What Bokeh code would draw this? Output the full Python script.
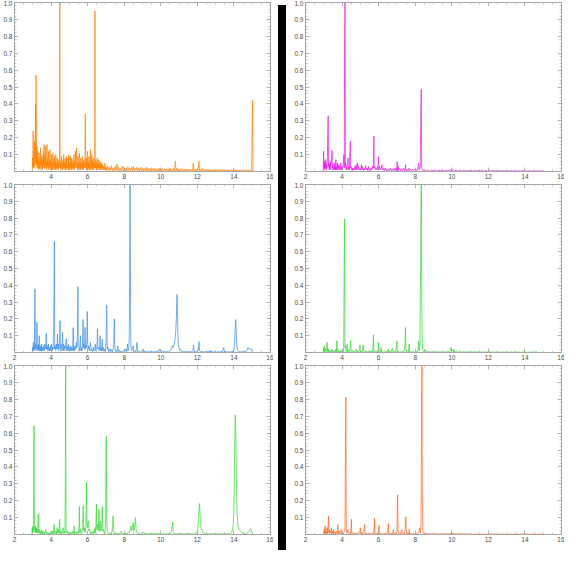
from bokeh.plotting import figure
from bokeh.models import Range1d, LinearAxis, FixedTicker, Div, PrintfTickFormatter
from bokeh.layouts import row, column
from bokeh.embed import file_html
from bokeh.resources import INLINE

# ---------------- data (x, intensity) ----------------
top_left_trace = [
    (2.97,0),(2.98,0.08),(3.00,0.02),(3.02,0.24),(3.03,0.03),(3.05,0.12),(3.07,0.02),(3.09,0.18),(3.11,0.03),(3.13,0.09),
    (3.15,0.40),(3.16,0.05),(3.18,0.57),(3.20,0.04),(3.22,0.15),(3.24,0.02),(3.26,0.12),(3.28,0.03),(3.30,0.07),(3.32,0.01),
    (3.34,0.11),(3.36,0.02),(3.38,0.06),(3.40,0.01),(3.42,0.14),(3.44,0.03),(3.46,0.08),(3.48,0.02),(3.50,0.10),(3.52,0.01),
    (3.54,0.07),(3.56,0.02),(3.58,0.12),(3.60,0.03),(3.62,0.16),(3.64,0.02),(3.66,0.09),(3.68,0.04),(3.70,0.15),(3.72,0.02),
    (3.74,0.06),(3.76,0.01),(3.78,0.16),(3.80,0.03),(3.82,0.08),(3.84,0.02),(3.86,0.12),(3.88,0.01),(3.90,0.06),(3.92,0.03),
    (3.94,0.13),(3.96,0.02),(3.98,0.07),(4.00,0.01),(4.02,0.10),(4.04,0.02),(4.06,0.05),(4.08,0.01),(4.10,0.11),(4.12,0.03),
    (4.14,0.07),(4.16,0.01),(4.18,0.09),(4.20,0.02),(4.22,0.06),(4.24,0.01),(4.26,0.10),(4.28,0.02),(4.30,0.05),(4.32,0.01),
    (4.34,0.08),(4.36,0.02),(4.38,0.05),(4.40,0.01),(4.42,0.07),(4.44,0.02),(4.46,0.04),(4.47,0.06),(4.48,1.00),(4.49,0.05),
    (4.51,0.02),(4.53,0.06),(4.55,0.01),(4.57,0.09),(4.59,0.02),(4.61,0.05),(4.63,0.01),(4.65,0.07),(4.67,0.02),(4.69,0.10),
    (4.71,0.01),(4.73,0.05),(4.75,0.02),(4.77,0.08),(4.79,0.01),(4.81,0.06),(4.83,0.02),(4.85,0.09),(4.87,0.01),(4.89,0.04),
    (4.91,0.02),(4.93,0.08),(4.95,0.01),(4.97,0.10),(4.99,0.02),(5.01,0.05),(5.03,0.01),(5.05,0.09),(5.07,0.02),(5.09,0.06),
    (5.11,0.01),(5.13,0.08),(5.15,0.02),(5.17,0.05),(5.19,0.01),(5.21,0.07),(5.23,0.02),(5.25,0.10),(5.27,0.01),(5.29,0.06),
    (5.31,0.02),(5.33,0.12),(5.35,0.03),(5.37,0.07),(5.39,0.14),(5.41,0.02),(5.43,0.06),(5.45,0.01),(5.47,0.09),(5.49,0.02),
    (5.51,0.05),(5.53,0.01),(5.55,0.11),(5.57,0.02),(5.59,0.06),(5.61,0.01),(5.63,0.08),(5.65,0.02),(5.67,0.05),(5.69,0.01),
    (5.71,0.09),(5.73,0.02),(5.75,0.06),(5.77,0.01),(5.79,0.07),(5.81,0.02),(5.83,0.05),(5.85,0.03),(5.87,0.34),(5.89,0.02),
    (5.91,0.06),(5.93,0.01),(5.95,0.08),(5.97,0.02),(5.99,0.12),(6.01,0.01),(6.03,0.06),(6.05,0.02),(6.07,0.09),(6.09,0.01),
    (6.11,0.05),(6.13,0.02),(6.15,0.13),(6.17,0.01),(6.19,0.07),(6.21,0.02),(6.23,0.10),(6.25,0.01),(6.27,0.06),(6.29,0.02),
    (6.31,0.08),(6.33,0.01),(6.35,0.05),(6.37,0.02),(6.39,0.08),(6.40,0.95),(6.41,0.06),(6.43,0.02),(6.45,0.07),(6.47,0.01),
    (6.49,0.05),(6.51,0.02),(6.53,0.08),(6.55,0.01),(6.57,0.04),(6.59,0.02),(6.61,0.07),(6.63,0.01),(6.65,0.05),(6.67,0.02),
    (6.69,0.06),(6.71,0.01),(6.73,0.04),(6.75,0.02),(6.77,0.05),(6.79,0.01),(6.82,0.04),(6.85,0.01),(6.88,0.03),(6.91,0.01),
    (6.94,0.05),(6.97,0.01),(7.00,0.03),
    (7.05,.006),(7.10,.03),(7.15,.004),(7.20,.025),(7.25,.006),(7.30,.035),(7.35,.005),(7.40,.02),(7.45,.004),(7.50,.03),
    (7.55,.006),(7.60,.045),(7.65,.005),(7.70,.025),(7.75,.003),(7.80,.02),(7.85,.005),(7.90,.03),(7.95,.004),(8.00,.025),
    (8.05,.006),(8.10,.02),(8.15,.003),(8.20,.03),(8.25,.005),(8.30,.02),(8.35,.004),(8.40,.025),(8.45,.006),(8.50,.03),
    (8.55,.003),(8.60,.02),(8.65,.005),(8.70,.025),(8.75,.004),(8.80,.02),(8.85,.003),(8.90,.025),(8.95,.005),(9.00,.02),
    (9.05,.003),(9.10,.018),(9.15,.005),(9.20,.025),(9.25,.003),(9.30,.02),(9.35,.004),(9.40,.018),(9.45,.003),(9.50,.022),
    (9.55,.005),(9.60,.018),(9.65,.003),(9.70,.02),(9.75,.004),(9.80,.016),(9.85,.003),(9.90,.02),(9.95,.004),(10.00,.018),
    (10.05,.003),(10.10,.02),(10.15,.004),(10.20,.016),(10.25,.003),(10.30,.018),(10.35,.004),(10.40,.015),(10.45,.003),(10.50,.02),
    (10.55,.004),(10.60,.016),(10.65,.003),(10.70,.018),(10.75,.005),(10.80,.06),(10.83,.004),(10.88,.02),(10.93,.003),(10.98,.016),
    (11.03,.003),(11.08,.015),(11.13,.004),(11.18,.018),(11.23,.003),(11.28,.014),(11.33,.003),(11.38,.016),(11.43,.004),(11.48,.013),
    (11.53,.003),(11.58,.015),(11.63,.003),(11.68,.014),(11.73,.004),(11.78,.05),(11.81,.003),(11.86,.015),(11.91,.003),(11.96,.014),
    (12.01,.004),(12.06,.02),(12.09,.06),(12.12,.004),(12.17,.014),(12.22,.003),(12.27,.02),(12.32,.003),(12.37,.013),(12.42,.003),
    (12.47,.012),(12.52,.002),(12.57,.014),(12.62,.003),(12.67,.012),(12.72,.002),(12.77,.013),(12.82,.003),(12.87,.011),(12.92,.002),
    (12.97,.012),(13.02,.003),(13.07,.011),(13.12,.002),(13.17,.012),(13.22,.003),(13.27,.01),(13.32,.002),(13.37,.015),(13.42,.003),
    (13.47,.011),(13.52,.002),(13.57,.01),(13.62,.003),(13.67,.011),(13.72,.002),(13.77,.01),(13.82,.002),(13.87,.012),(13.92,.003),
    (13.97,.01),(14.02,.002),(14.07,.011),(14.12,.002),(14.17,.01),(14.22,.003),(14.27,.009),(14.32,.002),(14.37,.01),(14.42,.002),
    (14.47,.009),(14.52,.003),(14.57,.01),(14.62,.002),(14.67,.009),(14.72,.002),(14.77,.01),(14.82,.002),(14.87,.009),(14.92,.003),
    (14.97,.02),(15.00,.30),(15.02,.42),(15.04,.01),(15.06,0),
]

top_right_trace = [
    (2.97,0),(2.99,0.12),(3.01,0.02),(3.03,0.06),(3.05,0.01),(3.07,0.05),(3.09,0.02),(3.11,0.07),(3.13,0.01),(3.15,0.04),
    (3.17,0.02),(3.20,0.08),(3.22,0.25),(3.24,0.33),(3.26,0.03),(3.28,0.05),(3.30,0.01),(3.32,0.04),(3.34,0.02),(3.36,0.06),
    (3.38,0.01),(3.40,0.03),(3.43,0.08),(3.45,0.125),(3.47,0.02),(3.49,0.04),(3.51,0.01),(3.53,0.03),(3.55,0.01),(3.58,0.05),
    (3.60,0.01),(3.62,0.03),(3.64,0.01),(3.66,0.07),(3.68,0.01),(3.70,0.03),(3.72,0.01),(3.75,0.05),(3.77,0.01),(3.79,0.02),
    (3.82,0.04),(3.84,0.01),(3.87,0.03),(3.90,0.01),(3.93,0.05),(3.96,0.01),(4.00,0.03),(4.03,0.01),(4.07,0.05),(4.10,0.10),
    (4.12,0.02),(4.14,0.78),(4.16,1.00),(4.18,0.03),(4.20,0.05),(4.22,0.01),(4.25,0.03),(4.27,0.01),(4.30,0.05),(4.33,0.08),
    (4.35,0.01),(4.38,0.03),(4.40,0.01),(4.43,0.12),(4.45,0.18),(4.47,0.02),(4.50,0.03),(4.53,0.01),(4.56,0.02),(4.59,0.005),
    (4.62,0.02),(4.66,0.01),(4.70,0.03),(4.73,0.01),(4.77,0.04),(4.80,0.01),(4.84,0.05),(4.87,0.01),(4.90,0.03),(4.94,0.01),
    (4.98,0.02),(5.02,0.01),(5.06,0.04),(5.09,0.01),(5.13,0.03),(5.17,0.005),(5.21,0.02),(5.25,0.01),(5.29,0.035),(5.32,0.01),
    (5.36,0.02),(5.40,0.005),(5.44,0.03),(5.48,0.01),(5.52,0.02),(5.56,0.005),(5.60,0.02),(5.64,0.01),(5.68,0.03),(5.71,0.02),
    (5.74,0.21),(5.76,0.02),(5.79,0.03),(5.82,0.01),(5.86,0.02),(5.90,0.01),(5.94,0.03),(5.96,0.01),(5.99,0.087),(6.02,0.01),
    (6.06,0.03),(6.10,0.01),(6.15,0.02),(6.18,0.04),(6.21,0.01),(6.25,0.02),(6.30,0.005),(6.35,0.02),(6.40,0.005),(6.45,0.015),
    (6.50,0.005),(6.55,0.015),(6.60,0.005),(6.65,0.02),(6.70,0.005),(6.75,0.015),(6.80,0.005),(6.85,0.02),(6.90,0.005),(6.95,0.02),
    (6.99,0.005),(7.01,0.058),(7.03,0.005),(7.07,0.03),(7.10,0.005),(7.15,0.02),(7.20,0.005),(7.25,0.015),(7.30,0.005),(7.35,0.02),
    (7.40,0.005),(7.45,0.015),(7.47,0.04),(7.49,0.005),(7.55,0.015),(7.60,0.005),(7.65,0.02),(7.70,0.005),(7.75,0.015),(7.80,0.005),
    (7.85,0.01),(7.90,0.005),(7.95,0.015),(8.00,0.005),(8.05,0.01),(8.10,0.005),(8.15,0.02),(8.19,0.05),(8.22,0.01),(8.27,0.02),
    (8.31,0.35),(8.33,0.486),(8.35,0.02),(8.38,0.015),(8.42,0.005),
    (8.50,.012),(8.60,.003),(8.70,.01),(8.80,.002),(8.90,.008),(9.00,.003),(9.10,.01),(9.20,.002),(9.30,.008),(9.40,.003),
    (9.50,.009),(9.60,.002),(9.70,.008),(9.80,.003),(9.90,.01),(10.00,.004),(10.05,.012),(10.15,.003),(10.25,.008),(10.35,.002),
    (10.45,.007),(10.55,.002),(10.65,.008),(10.75,.002),(10.85,.006),(10.95,.002),(11.05,.007),(11.15,.002),(11.25,.006),(11.35,.002),
    (11.45,.007),(11.55,.002),(11.65,.006),(11.75,.002),(11.85,.005),(11.95,.002),(12.05,.006),(12.15,.002),(12.25,.005),(12.35,.002),
    (12.45,.006),(12.55,.002),(12.65,.005),(12.75,.002),(12.85,.005),(12.95,.002),(13.05,.005),(13.15,.002),(13.25,.006),(13.35,.002),
    (13.45,.005),(13.55,.002),(13.65,.004),(13.75,.002),(13.85,.005),(13.95,.002),(14.05,.004),(14.15,.002),(14.25,.005),(14.35,.002),
    (14.45,.004),(14.55,.002),(14.65,.004),(14.75,.002),(14.85,.004),(14.95,.002),(15.03,0),
]

middle_left_trace = [
    (2.97,0),(2.99,0.03),(3.01,0.01),(3.03,0.06),(3.05,0.01),(3.07,0.04),(3.09,0.02),(3.10,0.20),(3.12,0.379),(3.14,0.02),
    (3.16,0.05),(3.18,0.01),(3.21,0.06),(3.23,0.18),(3.25,0.02),(3.27,0.04),(3.29,0.01),(3.31,0.05),(3.33,0.02),(3.35,0.10),
    (3.37,0.01),(3.39,0.03),(3.41,0.01),(3.44,0.04),(3.46,0.01),(3.49,0.05),(3.51,0.01),(3.54,0.03),(3.57,0.01),(3.60,0.04),
    (3.63,0.01),(3.66,0.05),(3.69,0.02),(3.72,0.06),(3.74,0.115),(3.76,0.02),(3.79,0.04),(3.82,0.01),(3.85,0.05),(3.88,0.01),
    (3.91,0.03),(3.94,0.01),(3.97,0.04),(4.00,0.01),(4.03,0.05),(4.06,0.01),(4.09,0.03),(4.12,0.02),(4.16,0.30),(4.18,0.66),
    (4.20,0.02),(4.23,0.04),(4.26,0.01),(4.29,0.05),(4.32,0.02),(4.35,0.11),(4.37,0.02),(4.40,0.05),(4.43,0.01),(4.46,0.06),
    (4.49,0.19),(4.51,0.02),(4.54,0.05),(4.57,0.01),(4.60,0.04),(4.63,0.12),(4.65,0.01),(4.68,0.05),(4.71,0.01),(4.74,0.04),
    (4.77,0.02),(4.80,0.06),(4.84,0.08),(4.86,0.01),(4.89,0.04),(4.92,0.01),(4.95,0.05),(4.98,0.01),(5.01,0.03),(5.04,0.01),
    (5.07,0.04),(5.10,0.01),(5.13,0.03),(5.16,0.01),(5.19,0.05),(5.21,0.148),(5.23,0.01),(5.26,0.03),(5.29,0.01),(5.32,0.04),
    (5.35,0.02),(5.38,0.06),(5.41,0.03),(5.44,0.10),(5.47,0.392),(5.49,0.05),(5.52,0.03),(5.55,0.01),(5.58,0.04),(5.61,0.10),
    (5.63,0.01),(5.66,0.03),(5.69,0.01),(5.72,0.06),(5.75,0.196),(5.77,0.03),(5.80,0.05),(5.83,0.02),(5.86,0.15),(5.88,0.02),
    (5.91,0.04),(5.94,0.03),(5.96,0.10),(5.98,0.244),(6.00,0.05),(6.03,0.02),(6.06,0.04),(6.09,0.01),(6.13,0.03),(6.16,0.06),
    (6.19,0.01),(6.23,0.02),(6.27,0.005),(6.31,0.03),(6.35,0.01),(6.39,0.02),(6.42,0.05),(6.45,0.01),(6.49,0.03),(6.52,0.05),
    (6.54,0.142),(6.56,0.02),(6.60,0.03),(6.63,0.01),(6.66,0.04),(6.68,0.10),(6.70,0.01),(6.74,0.03),(6.77,0.01),(6.80,0.08),
    (6.82,0.01),(6.86,0.03),(6.90,0.005),(6.94,0.02),(6.98,0.01),(7.01,0.08),(7.03,0.20),(7.04,0.283),(7.06,0.10),(7.08,0.02),
    (7.12,0.03),(7.16,0.005),(7.20,0.02),(7.25,0.005),(7.30,0.02),(7.35,0.005),(7.40,0.03),(7.43,0.06),(7.46,0.20),(7.48,0.04),
    (7.51,0.01),(7.56,0.015),(7.60,0.005),(7.65,0.04),(7.68,0.005),(7.73,0.015),(7.78,0.003),(7.84,0.01),(7.90,0.003),(7.96,0.012),
    (8.02,0.004),(8.08,0.02),(8.13,0.005),(8.18,0.05),(8.21,0.01),(8.25,0.03),(8.28,0.10),(8.30,0.60),(8.32,1.00),(8.34,0.50),
    (8.36,0.06),(8.39,0.01),(8.44,0.02),(8.49,0.04),(8.52,0.005),(8.58,0.01),(8.64,0.003),(8.70,0.06),(8.73,0.005),(8.80,0.008),
    (8.88,0.003),(8.96,0.01),(9.02,0.004),(9.05,0.02),(9.09,0.003),(9.17,0.008),(9.25,0.002),(9.33,0.006),(9.41,0.002),(9.49,0.008),
    (9.57,0.002),(9.65,0.006),(9.73,0.003),(9.81,0.01),(9.87,0.004),(9.93,0.02),(9.98,0.005),(10.04,0.012),(10.10,0.003),(10.18,0.008),
    (10.26,0.003),(10.34,0.006),(10.42,0.002),(10.50,0.01),(10.56,0.02),(10.63,0.04),(10.68,0.03),(10.74,0.05),(10.79,0.09),(10.82,0.13),
    (10.85,0.20),(10.87,0.30),(10.89,0.346),(10.91,0.25),(10.93,0.12),(10.96,0.05),(11.00,0.025),(11.04,0.015),(11.08,0.02),(11.14,0.006),
    (11.22,0.004),(11.30,0.008),(11.38,0.003),(11.46,0.006),(11.54,0.002),(11.62,0.006),(11.70,0.003),(11.76,0.01),(11.79,0.045),(11.82,0.005),
    (11.90,0.006),(11.98,0.003),(12.05,0.015),(12.09,0.065),(12.12,0.01),(12.18,0.005),(12.26,0.008),(12.34,0.002),(12.42,0.006),(12.50,0.002),
    (12.58,0.006),(12.66,0.003),(12.70,0.015),(12.74,0.003),(12.82,0.006),(12.90,0.002),(12.98,0.006),(13.06,0.002),(13.14,0.006),(13.22,0.002),
    (13.30,0.006),(13.38,0.005),(13.44,0.03),(13.48,0.004),(13.56,0.006),(13.64,0.002),(13.72,0.006),(13.80,0.002),(13.88,0.006),(13.95,0.004),
    (14.01,0.02),(14.05,0.08),(14.08,0.17),(14.10,0.196),(14.12,0.15),(14.15,0.05),(14.19,0.015),(14.25,0.006),(14.33,0.003),(14.41,0.006),
    (14.49,0.002),(14.57,0.006),(14.65,0.004),(14.72,0.015),(14.77,0.03),(14.82,0.02),(14.88,0.022),(14.94,0.018),(14.98,0.02),(15.00,0),
]

middle_right_trace = [
    (2.97,0),(2.99,0.03),(3.01,0.005),(3.03,0.02),(3.05,0.04),(3.07,0.005),(3.10,0.02),(3.13,0.005),(3.16,0.03),(3.19,0.06),
    (3.21,0.005),(3.24,0.02),(3.27,0.005),(3.30,0.015),(3.33,0.003),(3.36,0.01),(3.40,0.003),(3.43,0.02),(3.46,0.005),(3.50,0.012),
    (3.54,0.003),(3.58,0.01),(3.62,0.003),(3.66,0.02),(3.69,0.005),(3.72,0.07),(3.74,0.005),(3.78,0.015),(3.82,0.003),(3.86,0.01),
    (3.90,0.003),(3.95,0.012),(4.00,0.003),(4.05,0.015),(4.09,0.005),(4.12,0.60),(4.14,0.795),(4.16,0.03),(4.19,0.04),(4.22,0.005),
    (4.25,0.02),(4.28,0.05),(4.30,0.005),(4.34,0.015),(4.38,0.003),(4.42,0.02),(4.45,0.03),(4.47,0.07),(4.49,0.005),(4.53,0.012),
    (4.58,0.003),(4.63,0.01),(4.68,0.002),(4.73,0.012),(4.77,0.02),(4.80,0.003),(4.85,0.01),(4.90,0.003),(4.95,0.02),(4.98,0.045),
    (5.00,0.005),(5.04,0.01),(5.08,0.003),(5.12,0.02),(5.16,0.045),(5.18,0.005),(5.23,0.01),(5.28,0.003),(5.33,0.01),(5.38,0.002),
    (5.43,0.008),(5.48,0.002),(5.53,0.008),(5.58,0.002),(5.63,0.01),(5.68,0.004),(5.72,0.105),(5.74,0.004),(5.79,0.01),(5.84,0.002),
    (5.89,0.008),(5.94,0.003),(5.98,0.02),(6.00,0.06),(6.02,0.004),(6.07,0.01),(6.11,0.005),(6.14,0.03),(6.16,0.003),(6.22,0.008),
    (6.28,0.002),(6.34,0.006),(6.40,0.002),(6.46,0.006),(6.50,0.003),(6.53,0.02),(6.56,0.003),(6.62,0.006),(6.68,0.002),(6.75,0.025),
    (6.78,0.003),(6.84,0.006),(6.90,0.002),(6.96,0.015),(7.00,0.07),(7.02,0.005),(7.07,0.01),(7.12,0.002),(7.18,0.006),(7.24,0.002),
    (7.30,0.008),(7.36,0.002),(7.42,0.02),(7.45,0.08),(7.47,0.149),(7.49,0.02),(7.53,0.005),(7.58,0.01),(7.63,0.005),(7.67,0.05),
    (7.69,0.003),(7.75,0.006),(7.82,0.002),(7.89,0.006),(7.96,0.002),(8.03,0.008),(8.09,0.003),(8.15,0.02),(8.19,0.07),(8.22,0.01),
    (8.26,0.05),(8.30,0.60),(8.33,1.00),(8.36,0.30),(8.39,0.02),(8.44,0.005),(8.50,0.01),(8.54,0.02),(8.58,0.003),(8.66,0.006),
    (8.74,0.002),(8.82,0.006),(8.90,0.002),(8.98,0.006),(9.06,0.002),(9.14,0.006),(9.22,0.002),(9.30,0.005),(9.38,0.002),(9.46,0.005),
    (9.54,0.002),(9.62,0.005),(9.70,0.002),(9.78,0.005),(9.86,0.003),(9.92,0.01),(9.96,0.03),(10.00,0.008),(10.05,0.015),(10.09,0.005),
    (10.12,0.02),(10.16,0.004),(10.24,.006),(10.34,.002),(10.44,.005),(10.54,.002),(10.64,.005),(10.74,.002),(10.84,.004),(10.94,.002),
    (11.04,.005),(11.14,.002),(11.24,.004),(11.34,.002),(11.44,.004),(11.54,.001),(11.64,.004),(11.74,.002),(11.84,.004),(11.94,.001),
    (12.04,.004),(12.14,.002),(12.24,.003),(12.34,.001),(12.44,.004),(12.54,.001),(12.64,.003),(12.74,.001),(12.84,.003),(12.94,.001),
    (13.04,.003),(13.14,.001),(13.24,.003),(13.34,.001),(13.44,.003),(13.54,.001),(13.64,.003),(13.74,.001),(13.84,.003),(13.94,.001),
    (14.04,.003),(14.14,.001),(14.24,.003),(14.34,.001),(14.44,.003),(14.54,.001),(14.64,.003),(14.77,0),
]

bottom_left_trace = [
    (2.95,0),(2.97,0.04),(2.99,0.01),(3.01,0.05),(3.03,0.015),(3.05,0.30),(3.07,0.644),(3.09,0.03),(3.11,0.04),(3.13,0.01),
    (3.15,0.05),(3.17,0.015),(3.19,0.04),(3.21,0.01),(3.24,0.03),(3.27,0.01),(3.30,0.12),(3.32,0.01),(3.35,0.03),(3.38,0.005),
    (3.41,0.02),(3.44,0.005),(3.47,0.025),(3.50,0.005),(3.53,0.02),(3.56,0.003),(3.60,0.015),(3.64,0.003),(3.70,0.03),(3.74,0.003),
    (3.79,0.012),(3.84,0.003),(3.89,0.01),(3.94,0.002),(3.99,0.015),(4.04,0.003),(4.09,0.02),(4.13,0.004),(4.17,0.06),(4.20,0.005),
    (4.25,0.02),(4.29,0.004),(4.33,0.04),(4.37,0.005),(4.41,0.03),(4.44,0.01),(4.47,0.09),(4.50,0.005),(4.54,0.02),(4.58,0.004),
    (4.62,0.02),(4.66,0.04),(4.69,0.005),(4.73,0.02),(4.76,0.01),(4.78,0.27),(4.80,1.00),(4.82,0.03),(4.85,0.01),(4.89,0.02),
    (4.93,0.004),(4.98,0.015),(5.03,0.003),(5.08,0.012),(5.13,0.003),(5.18,0.02),(5.22,0.004),(5.26,0.05),(5.29,0.004),(5.34,0.015),
    (5.39,0.003),(5.44,0.02),(5.49,0.005),(5.53,0.04),(5.55,0.166),(5.57,0.01),(5.61,0.03),(5.65,0.005),(5.69,0.02),(5.73,0.04),
    (5.76,0.17),(5.78,0.02),(5.82,0.04),(5.86,0.01),(5.90,0.05),(5.92,0.15),(5.94,0.31),(5.96,0.05),(5.99,0.04),(6.02,0.08),
    (6.04,0.08),(6.07,0.02),(6.11,0.03),(6.15,0.005),(6.20,0.015),(6.25,0.003),(6.30,0.02),(6.35,0.005),(6.40,0.04),(6.44,0.01),
    (6.48,0.18),(6.50,0.03),(6.54,0.06),(6.58,0.02),(6.62,0.15),(6.65,0.02),(6.69,0.08),(6.73,0.02),(6.77,0.06),(6.80,0.165),
    (6.83,0.02),(6.87,0.03),(6.91,0.005),(6.95,0.02),(6.98,0.05),(7.00,0.50),(7.02,0.58),(7.04,0.10),(7.07,0.02),(7.11,0.01),
    (7.16,0.003),(7.22,0.01),(7.28,0.003),(7.34,0.02),(7.37,0.06),(7.39,0.11),(7.41,0.03),(7.45,0.005),(7.52,0.01),(7.58,0.002),
    (7.65,0.008),(7.72,0.002),(7.79,0.01),(7.85,0.02),(7.88,0.003),(7.95,0.006),(8.02,0.002),(8.09,0.008),(8.16,0.003),(8.22,0.015),
    (8.28,0.01),(8.33,0.03),(8.37,0.05),(8.40,0.02),(8.44,0.04),(8.49,0.07),(8.52,0.02),(8.56,0.04),(8.60,0.08),(8.62,0.10),
    (8.65,0.03),(8.69,0.01),(8.75,0.005),(8.82,0.008),(8.90,0.003),(8.98,0.01),(9.04,0.012),(9.07,0.015),(9.11,0.004),(9.19,0.006),
    (9.27,0.002),(9.35,0.005),(9.43,0.003),(9.50,0.01),(9.55,0.002),(9.63,.005),(9.71,.002),(9.79,.006),(9.87,.002),(9.95,.005),
    (10.03,.002),(10.11,.005),(10.19,.002),(10.27,.004),(10.35,.002),(10.43,.005),(10.50,.003),(10.55,.008),(10.60,.03),(10.65,.075),
    (10.68,.02),(10.73,.005),(10.81,.004),(10.89,.002),(10.97,.004),(11.05,.002),(11.13,.004),(11.21,.002),(11.29,.004),(11.37,.002),
    (11.45,.004),(11.53,.002),(11.61,.004),(11.69,.002),(11.77,.004),(11.85,.002),(11.93,.005),(11.98,.01),(12.02,.03),(12.07,.10),
    (12.10,.17),(12.12,.183),(12.14,.14),(12.17,.06),(12.21,.03),(12.26,.03),(12.30,.01),(12.36,.005),(12.44,.003),(12.52,.005),
    (12.60,.002),(12.68,.004),(12.76,.002),(12.84,.004),(12.92,.002),(13.00,.004),(13.08,.002),(13.16,.004),(13.24,.002),(13.32,.004),
    (13.40,.002),(13.48,.004),(13.56,.002),(13.64,.005),(13.72,.003),(13.80,.006),(13.86,.01),(13.90,.02),(13.96,.05),(14.00,.15),
    (14.03,.40),(14.06,.65),(14.08,.707),(14.10,.62),(14.13,.35),(14.17,.13),(14.22,.05),(14.28,.03),(14.35,.02),(14.42,.012),
    (14.50,.008),(14.58,.005),(14.66,.004),(14.74,.008),(14.80,.015),(14.86,.025),(14.93,.035),(14.98,.01),(15.00,0),
]

bottom_right_trace = [
    (3.00,0),(3.02,0.03),(3.04,0.005),(3.07,0.05),(3.09,0.005),(3.12,0.02),(3.15,0.005),(3.18,0.04),(3.20,0.005),(3.24,0.06),
    (3.26,0.11),(3.28,0.01),(3.31,0.03),(3.34,0.005),(3.37,0.02),(3.40,0.01),(3.42,0.04),(3.44,0.005),(3.48,0.02),(3.51,0.005),
    (3.54,0.03),(3.56,0.005),(3.60,0.015),(3.64,0.003),(3.68,0.02),(3.72,0.005),(3.75,0.03),(3.77,0.06),(3.79,0.005),(3.83,0.02),
    (3.87,0.003),(3.91,0.015),(3.95,0.03),(3.97,0.003),(4.02,0.01),(4.07,0.003),(4.12,0.02),(4.16,0.04),(4.19,0.60),(4.21,0.813),
    (4.23,0.03),(4.26,0.01),(4.29,0.02),(4.32,0.03),(4.34,0.005),(4.39,0.01),(4.44,0.003),(4.48,0.02),(4.51,0.09),(4.53,0.005),
    (4.58,0.01),(4.63,0.003),(4.68,0.01),(4.73,0.003),(4.78,0.008),(4.83,0.003),(4.88,0.01),(4.93,0.005),(4.97,0.02),(5.00,0.04),
    (5.02,0.004),(5.07,0.015),(5.12,0.003),(5.17,0.02),(5.21,0.03),(5.23,0.06),(5.25,0.004),(5.31,0.008),(5.37,0.002),(5.43,0.008),
    (5.49,0.002),(5.55,0.006),(5.61,0.002),(5.67,0.01),(5.72,0.005),(5.75,0.03),(5.77,0.095),(5.79,0.004),(5.84,0.01),(5.89,0.002),
    (5.95,0.01),(5.99,0.02),(6.02,0.055),(6.04,0.004),(6.10,0.008),(6.16,0.002),(6.22,0.006),(6.28,0.002),(6.34,0.006),(6.40,0.002),
    (6.46,0.01),(6.50,0.02),(6.53,0.065),(6.55,0.004),(6.61,0.008),(6.67,0.002),(6.73,0.01),(6.78,0.005),(6.81,0.03),(6.84,0.004),
    (6.90,0.008),(6.96,0.003),(7.00,0.02),(7.02,0.15),(7.04,0.235),(7.06,0.02),(7.10,0.005),(7.15,0.01),(7.20,0.004),(7.26,0.03),
    (7.29,0.004),(7.35,0.008),(7.41,0.003),(7.45,0.03),(7.47,0.08),(7.49,0.105),(7.51,0.03),(7.55,0.004),(7.60,0.01),(7.64,0.004),
    (7.67,0.03),(7.70,0.003),(7.77,0.006),(7.84,0.002),(7.91,0.006),(7.98,0.002),(8.05,0.008),(8.12,0.003),(8.18,0.01),(8.22,0.02),
    (8.25,0.04),(8.28,0.01),(8.32,0.05),(8.35,0.75),(8.37,1.00),(8.39,0.20),(8.42,0.02),(8.47,0.005),(8.53,0.006),(8.60,0.01),
    (8.66,0.002),(8.74,.005),(8.82,.002),(8.90,.004),(8.98,.002),(9.06,.004),(9.14,.002),(9.22,.004),(9.30,.002),(9.38,.004),
    (9.46,.002),(9.54,.004),(9.62,.002),(9.70,.004),(9.78,.002),(9.86,.005),(9.94,.003),(10.00,.01),(10.06,.003),(10.12,.008),
    (10.18,.002),(10.26,.004),(10.34,.002),(10.42,.004),(10.50,.002),(10.58,.004),(10.66,.002),(10.74,.004),(10.82,.002),(10.90,.003),
    (10.98,.001),(11.06,.003),(11.14,.001),(11.22,.003),(11.30,.001),(11.38,.003),(11.46,.001),(11.54,.003),(11.62,.001),(11.70,.003),
    (11.78,.001),(11.86,.003),(11.94,.001),(12.02,.003),(12.10,.001),(12.18,.003),(12.26,.001),(12.34,.003),(12.42,.001),(12.50,.003),
    (12.58,.001),(12.66,.003),(12.74,.001),(12.82,.003),(12.90,.001),(12.98,.003),(13.06,.001),(13.14,.003),(13.22,.001),(13.30,.003),
    (13.38,.001),(13.46,.003),(13.54,.001),(13.62,.003),(13.70,.001),(13.78,.003),(13.86,.001),(13.94,.003),(14.02,.001),(14.10,.003),
    (14.18,.001),(14.26,.003),(14.34,.001),(14.42,.003),(14.50,.001),(14.58,.003),(14.66,.001),(14.74,.003),(14.82,.001),(14.90,.003),
    (15.00,.001),(15.09,0),
]

x_tick_values = [2, 4, 6, 8, 10, 12, 14, 16]
y_tick_values = [0.1, 0.2, 0.3, 0.4, 0.5, 0.6, 0.7, 0.8, 0.9, 1.0]

# ---------------- styling ----------------
FRAME = "#a6a6a6"
LABEL = "#4d4d4d"
FONT = "Liberation Sans"
x_minor = [2 + 0.5 * i for i in range(29)]
y_minor = [0.02 * i for i in range(51)]


def style_axis(ax, ticks, minor, show_labels, fmt=None):
    ax.ticker = FixedTicker(ticks=ticks, minor_ticks=minor)
    ax.axis_line_color = FRAME
    ax.major_tick_line_color = FRAME
    ax.minor_tick_line_color = FRAME
    ax.major_tick_in = 4
    ax.major_tick_out = 0
    ax.minor_tick_in = 2
    ax.minor_tick_out = 0
    ax.axis_line_width = 0.8
    ax.major_tick_line_width = 0.8
    ax.minor_tick_line_width = 0.6
    if show_labels:
        if fmt is not None:
            ax.formatter = PrintfTickFormatter(format=fmt)
        ax.major_label_text_font = FONT
        ax.major_label_text_font_size = "6.5px"
        ax.major_label_text_color = LABEL
        ax.major_label_standoff = 2
    else:
        ax.major_label_overrides = {t: "" for t in ticks}
        ax.major_label_text_font_size = "1px"
        ax.major_label_standoff = 0


def panel(trace, color, height, x_ticks):
    xs = [pt[0] for pt in trace]
    ys = [pt[1] for pt in trace]
    p = figure(width=273, height=height, x_range=Range1d(2, 16), y_range=Range1d(0, 1.0),
               output_backend="svg", toolbar_location=None,
               min_border_left=12, min_border_right=3, min_border_top=2, min_border_bottom=11,
               x_axis_location=None, y_axis_location=None)
    p.xgrid.visible = False
    p.ygrid.visible = False
    p.outline_line_color = FRAME
    p.background_fill_color = "white"
    p.border_fill_color = "white"
    p.line(xs, ys, line_color=color, line_width=0.75, line_alpha=0.95)

    bottom = LinearAxis()
    style_axis(bottom, x_ticks, x_minor, True)
    p.add_layout(bottom, "below")
    left = LinearAxis()
    style_axis(left, y_tick_values, y_minor, True, fmt="%.1f")
    p.add_layout(left, "left")
    top = LinearAxis()
    style_axis(top, x_tick_values, x_minor, False)
    p.add_layout(top, "above")
    right = LinearAxis()
    style_axis(right, y_tick_values, y_minor, False)
    p.add_layout(right, "right")
    return p


heights = [182, 181, 182]
tl = panel(top_left_trace, "#FF8000", heights[0], x_tick_values[1:])
ml = panel(middle_left_trace, "#3D8EE6", heights[1], x_tick_values)
bl = panel(bottom_left_trace, "#36D936", heights[2], x_tick_values)
tr = panel(top_right_trace, "#E61AE6", heights[0], x_tick_values)
mr = panel(middle_right_trace, "#33D633", heights[1], x_tick_values)
br = panel(bottom_right_trace, "#FF6622", heights[2], x_tick_values)

divider = Div(text="", width=8, height=sum(heights), styles={"background-color": "black"})

layout = row(column(tl, ml, bl), divider, column(tr, mr, br))

open("out.html", "w").write(file_html(layout, INLINE))
